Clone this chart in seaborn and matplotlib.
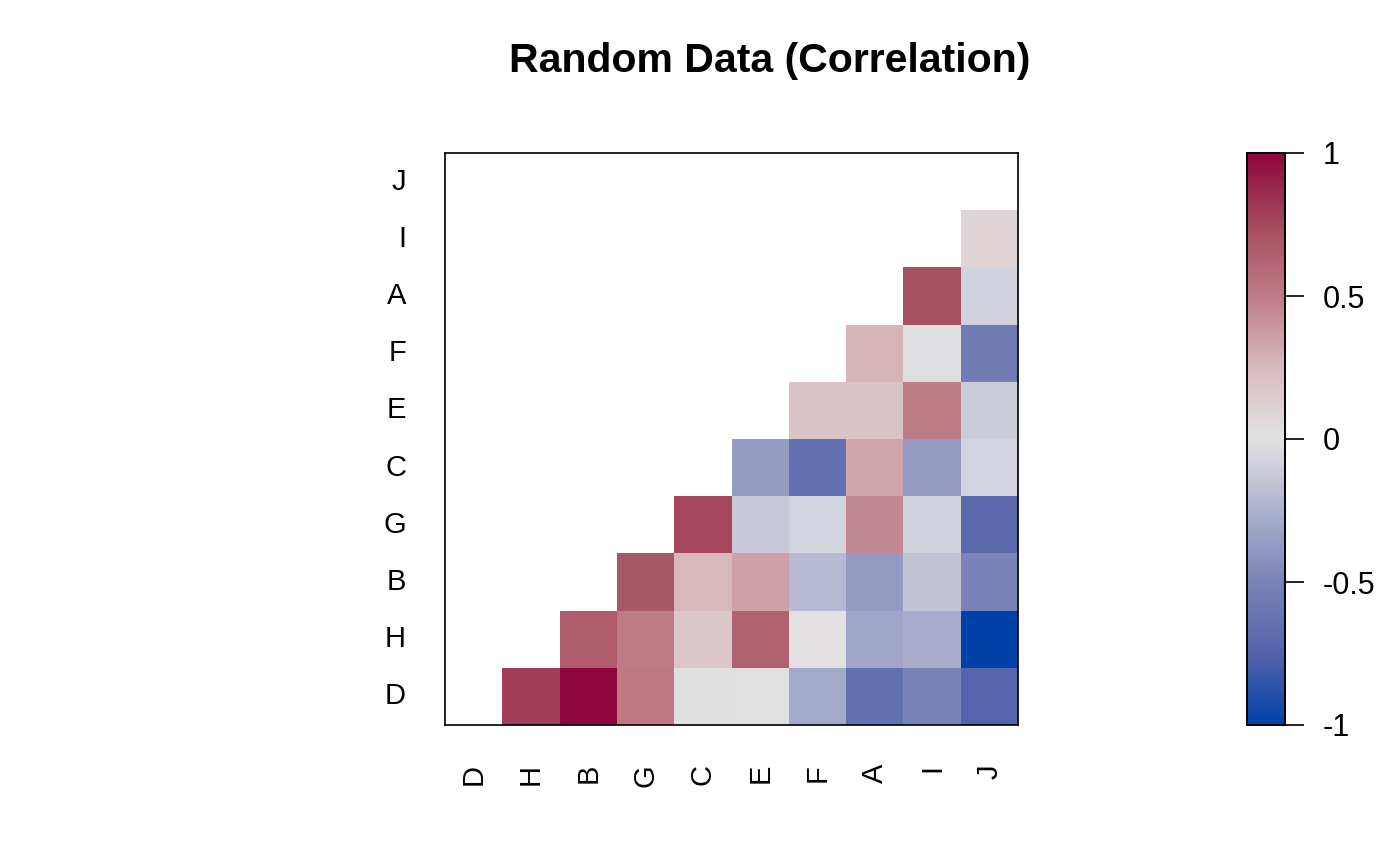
import numpy as np
import pandas as pd
import matplotlib
matplotlib.use("Agg")
import matplotlib.pyplot as plt
from matplotlib.colors import LinearSegmentedColormap
import seaborn as sns

nan = np.nan
col_labels = ["D", "H", "B", "G", "C", "E", "F", "A", "I", "J"]
row_labels = ["J", "I", "A", "F", "E", "C", "G", "B", "H", "D"]

row_J = [nan, nan, nan, nan, nan, nan, nan, nan, nan, nan]
row_I = [nan, nan, nan, nan, nan, nan, nan, nan, nan, 0.09]
row_A = [nan, nan, nan, nan, nan, nan, nan, nan, 0.72, -0.08]
row_F = [nan, nan, nan, nan, nan, nan, nan, 0.27, -0.02, -0.55]
row_E = [nan, nan, nan, nan, nan, nan, 0.19, 0.19, 0.50, -0.11]
row_C = [nan, nan, nan, nan, nan, -0.375, -0.655, 0.33, -0.375, -0.075]
row_G = [nan, nan, nan, nan, 0.76, -0.13, -0.077, 0.45, -0.08, -0.70]
row_B = [nan, nan, nan, 0.68, 0.25, 0.35, -0.21, -0.375, -0.15, -0.50]
row_H = [nan, nan, 0.66, 0.50, 0.17, 0.64, 0.01, -0.31, -0.27, -1.00]
row_D = [nan, 0.79, 1.00, 0.52, -0.01, 0.00, -0.29, -0.655, -0.50, -0.75]

cbar_ticks = [-1, -0.5, 0, 0.5, 1]
cbar_ticklabels = ["-1", "-0.5", "0", "0.5", "1"]

data = pd.DataFrame([row_J, row_I, row_A, row_F, row_E, row_C, row_G, row_B, row_H, row_D],
                    index=row_labels, columns=col_labels)

nodes = [(0, 65, 168), (85, 100, 170), (122, 131, 183), (173, 177, 205), (226, 226, 226),
         (216, 186, 190), (190, 124, 137), (165, 75, 96), (142, 6, 59)]
cmap = LinearSegmentedColormap.from_list("bluered", [tuple(c / 255 for c in n) for n in nodes], N=256)

plt.rcParams['font.family'] = ['Liberation Sans', 'DejaVu Sans']
fig = plt.figure(figsize=(14, 8.66), dpi=100)
ax = fig.add_axes([445 / 1400, 1 - 725 / 866, 573 / 1400, 572 / 866])
cax = fig.add_axes([1247 / 1400, 1 - 725 / 866, 38 / 1400, 572 / 866])

sns.heatmap(data, ax=ax, cmap=cmap, vmin=-1, vmax=1, cbar_ax=cax,
            cbar_kws={"ticks": cbar_ticks}, mask=data.isna())

ax.set_xlabel("")
ax.set_ylabel("")
ax.tick_params(axis="both", length=0, labelsize=21)
ax.tick_params(axis="y", pad=28, rotation=0)
ax.tick_params(axis="x", pad=28, rotation=90)
for lab in ax.get_yticklabels():
    lab.set_horizontalalignment("right")
for s in ax.spines.values():
    s.set_visible(True)
    s.set_linewidth(1.2)
    s.set_color("black")

cax.set_yticklabels(cbar_ticklabels)
cax.tick_params(length=13.5, width=1.2, labelsize=22, pad=13.5)
for s in cax.spines.values():
    s.set_visible(True)
    s.set_linewidth(1.2)
cbar = ax.collections[0].colorbar
cbar.outline.set_visible(True)
cbar.outline.set_linewidth(1.2)
cbar.outline.set_edgecolor("black")

fig.text(770 / 1400, 1 - 61 / 866, "Random Data (Correlation)", ha="center", va="center",
         fontsize=29.5, fontweight="bold")

fig.savefig("out.png", dpi=100)
